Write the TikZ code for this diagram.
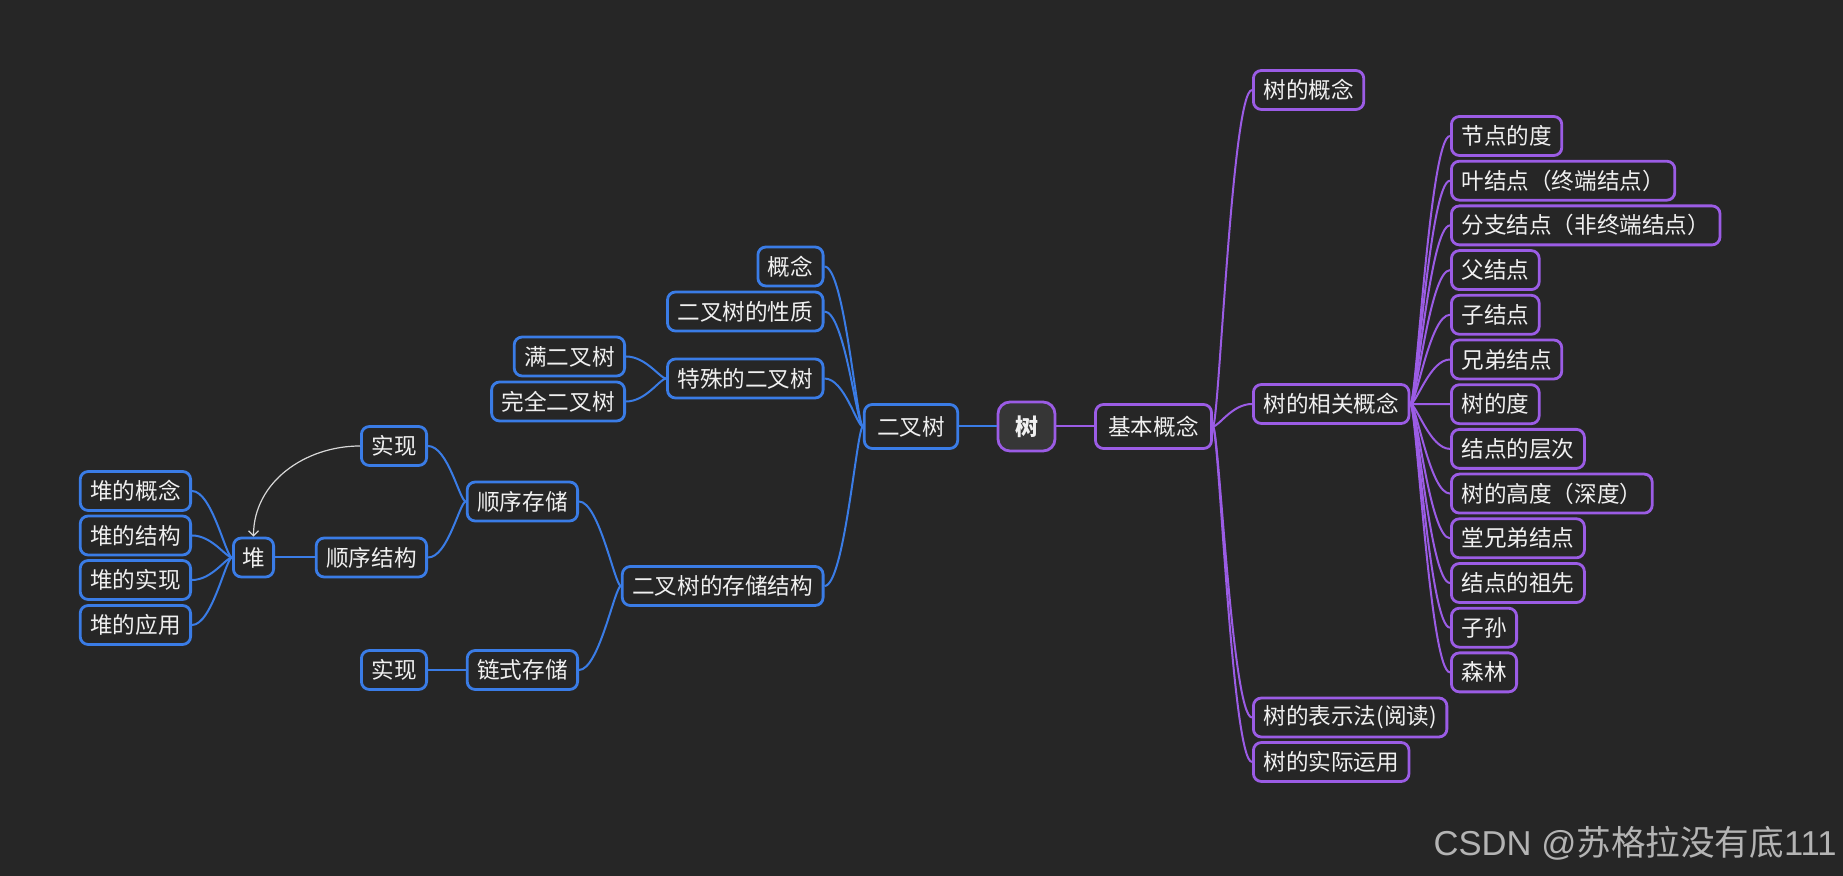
\documentclass[tikz,border=0pt]{standalone}
\usepackage{fontspec}
\setmainfont{Noto Sans CJK SC}
\newfontfamily\latinfont{Liberation Sans}
\usetikzlibrary{arrows.meta}

\definecolor{bgcol}{HTML}{262626}
\definecolor{bluecol}{HTML}{3A7CE6}
\definecolor{purplecol}{HTML}{9B5CE5}
\definecolor{txtcol}{HTML}{F0F0F0}
\definecolor{rootfill}{HTML}{363636}
\definecolor{markcol}{HTML}{B4B4B4}
\definecolor{arrowcol}{HTML}{D8D8D8}

\begin{document}
\begin{tikzpicture}[x=0.5pt, y=-0.5pt,
    topic/.style={draw, rounded corners=4pt, line width=1.4pt, fill=bgcol, text=txtcol,
        font=\fontsize{11.3}{13}\selectfont, inner xsep=5pt, inner ysep=0pt, minimum height=19.5pt},
    btopic/.style={topic, draw=bluecol},
    ptopic/.style={topic, draw=purplecol},
    maintopic/.style={inner xsep=6.4pt, minimum height=22pt},
    bline/.style={bluecol, line width=1pt},
    pline/.style={purplecol, line width=1pt},
    curvy/.style={out distance=3pt, in distance=10pt}]
    \fill[bgcol] (0,0) rectangle (1843,876);
    \useasboundingbox (0,0) rectangle (1843,876);

    % root
    \node[topic, draw=purplecol, fill=rootfill, rounded corners=6pt, font=\fontsize{11.5}{13}\selectfont\bfseries,
        minimum width=28.5pt, minimum height=24.5pt, inner xsep=0pt] (root) at (1026.5,426.5) {树};

    % right branch: basic concepts
    \node[ptopic, maintopic] (basic) at (1153.5,426.5) {基本概念};
    \draw[pline] (root) -- (basic);
    \foreach \name/\txt/\y in {concept/树的概念/90, rel/树的相关概念/404,
        repr/树的表示法(阅读)/717.5, use/树的实际运用/762}{
        \node[ptopic, anchor=west] (\name) at (1252,\y) {\txt};
        \draw[pline, curvy] (basic.east) to[out=0, in=180] (\name.west);
    }
    \foreach \txt [count=\i from 0] in {节点的度, 叶结点（终端结点）, 分支结点（非终端结点）, 父结点,
        子结点, 兄弟结点, 树的度, 结点的层次, 树的高度（深度）, 堂兄弟结点, 结点的祖先, 子孙, 森林}{
        \node[ptopic, anchor=west] (k\i) at (1450,136+44.7*\i) {\txt};
        \draw[pline, curvy] (rel.east) to[out=0, in=180] (k\i.west);
    }

    % left branch: binary tree
    \node[btopic, maintopic] (bt) at (911,426.5) {二叉树};
    \draw[bline] (bt) -- (root);
    \foreach \name/\txt/\y in {btc/概念/266.5, btp/二叉树的性质/311.5,
        bts/特殊的二叉树/378.5, store/二叉树的存储结构/586}{
        \node[btopic, anchor=east] (\name) at (824.5,\y) {\txt};
        \draw[bline, curvy] (bt.west) to[out=180, in=0] (\name.east);
    }
    \foreach \name/\txt/\y in {full/满二叉树/356.5, comp/完全二叉树/401.5}{
        \node[btopic, anchor=east] (\name) at (626,\y) {\txt};
        \draw[bline, curvy] (bts.west) to[out=180, in=0] (\name.east);
    }

    % storage
    \node[btopic, anchor=east] (seq) at (579,501.5) {顺序存储};
    \node[btopic, anchor=east] (link) at (579,670) {链式存储};
    \draw[bline, curvy] (store.west) to[out=180, in=0] (seq.east);
    \draw[bline, curvy] (store.west) to[out=180, in=0] (link.east);
    \node[btopic, anchor=east] (impa) at (428,446) {实现};
    \node[btopic, anchor=east] (seqs) at (428,557.5) {顺序结构};
    \node[btopic, anchor=east] (impb) at (428,670) {实现};
    \draw[bline, curvy] (seq.west) to[out=180, in=0] (impa.east);
    \draw[bline, curvy] (seq.west) to[out=180, in=0] (seqs.east);
    \draw[bline] (link) -- (impb);

    % heap
    \node[btopic, inner xsep=4.4pt] (heap) at (253.5,557.5) {堆};
    \draw[bline] (seqs) -- (heap);
    \foreach \txt/\y [count=\i] in {堆的概念/491, 堆的结构/535.5, 堆的实现/580, 堆的应用/625}{
        \node[btopic, anchor=east] (h\i) at (192,\y) {\txt};
        \draw[bline, curvy] (heap.west) to[out=180, in=0] (h\i.east);
    }
    \draw[arrowcol, line width=0.6pt, -{Straight Barb[length=2.5pt, width=5pt]}]
        (impa.west) to[out=180, in=90] (heap.north);

    % watermark
    \node[anchor=east, inner sep=0pt, text=markcol, font=\fontsize{17.3}{19}\selectfont] (mark) at (1837,843)
        {{\latinfont CSDN @}苏格拉没有底{\latinfont 111}};
\end{tikzpicture}
\end{document}
